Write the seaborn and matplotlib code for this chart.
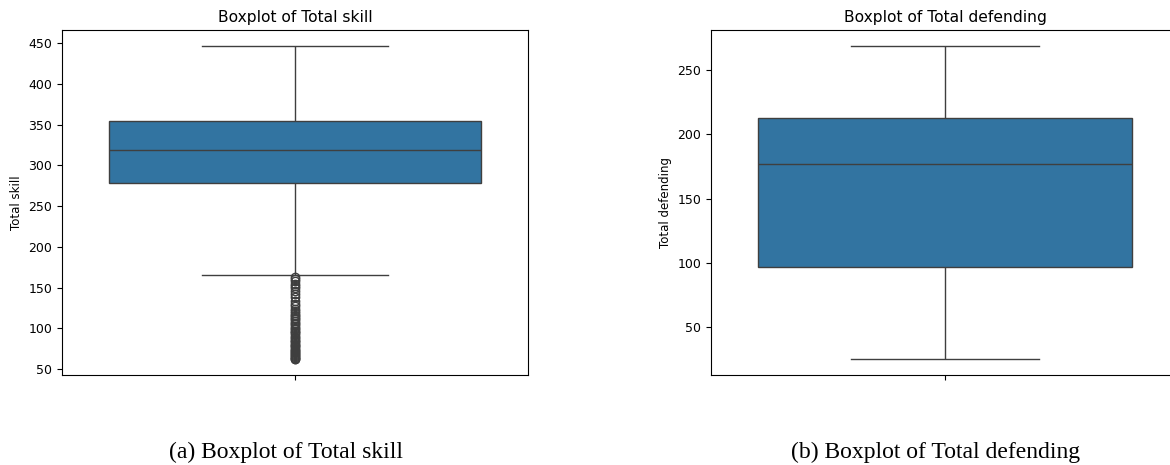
#%% importing the libraries
import numpy as np
import pandas as pd
import seaborn as sns
import matplotlib
matplotlib.use("Agg")
import matplotlib.pyplot as plt

#%% values
# five-number summaries (lower whisker, Q1, median, Q3, upper whisker)
skill_stats = [165, 279, 319, 355, 447]
defending_stats = [25, 97, 177, 213, 269]

# low outliers of Total skill
skill_fliers = [62, 63, 64, 65, 66, 67, 68, 70, 71, 72, 74, 75, 77, 78, 80,
                81, 83, 85, 86, 88, 90, 92, 94, 95, 97, 99, 101, 103, 105,
                107, 109, 111, 113, 115, 117, 119, 121, 124, 127, 130, 134,
                138, 142, 146, 149, 152, 155, 158, 160, 163]
defending_fliers = []

titles = ["Boxplot of Total skill", "Boxplot of Total defending"]
columns = ["Total skill", "Total defending"]
captions = ["(a) Boxplot of Total skill", "(b) Boxplot of Total defending"]


#%% build a sample that reproduces the summary for seaborn
def sample_from_stats(stats, fliers):
    lo, q1, med, q3, hi = stats
    reps = len(fliers) + 5  # enough copies so the quartiles land on the blocks
    return list(fliers) + [lo] + [q1] * reps + [med] * reps + [q3] * reps + [hi]


da_skill = pd.DataFrame({columns[0]: sample_from_stats(skill_stats, skill_fliers)})
da_def = pd.DataFrame({columns[1]: sample_from_stats(defending_stats, defending_fliers)})

#%% plotting
W, H = 1170, 465
fig = plt.figure(figsize=(W / 100, H / 100), dpi=100)
ax1 = fig.add_axes([62 / W, 90 / H, 466 / W, 345 / H])
# right panel runs past the edge of the picture (its right spine is cut off)
ax2 = fig.add_axes([711 / W, 90 / H, 468 / W, 345 / H])

for ax, da, col, title in zip([ax1, ax2], [da_skill, da_def], columns, titles):
    sns.boxplot(data=da, y=col, ax=ax)
    ax.set_title(title, fontsize=11.2)
    ax.set_ylabel(col, fontsize=8.5)
    ax.tick_params(labelsize=9)

fig.text(286 / W, 13 / H, captions[0], ha="center", va="center",
         family="Liberation Serif", fontsize=17)
fig.text(935.5 / W, 13 / H, captions[1], ha="center", va="center",
         family="Liberation Serif", fontsize=17)

fig.savefig("out.png", dpi=100)
